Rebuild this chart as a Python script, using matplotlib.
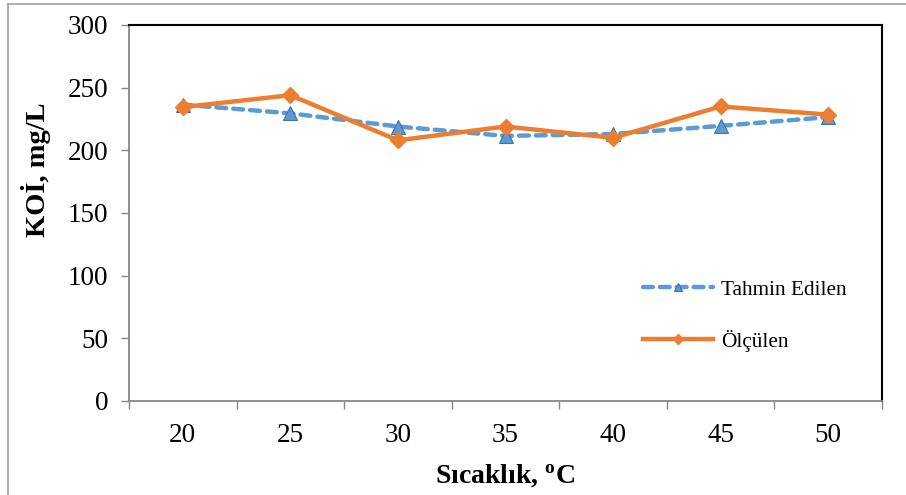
import matplotlib
matplotlib.use("Agg")
import matplotlib.pyplot as plt
from matplotlib.lines import Line2D

temps = ['20', '25', '30', '35', '40', '45', '50']
tahmin = [236.5, 229.5, 219, 211.5, 213, 219.5, 226.5]
olculen = [234.5, 244, 208, 219, 210, 235, 228.5]

plt.rcParams['font.family'] = ['Liberation Serif', 'DejaVu Serif']
plt.rcParams['mathtext.fontset'] = 'custom'
plt.rcParams['mathtext.rm'] = 'Liberation Serif'
plt.rcParams['mathtext.bf'] = 'Liberation Serif:bold'

blue = '#5B9BD5'
orange = '#ED7D31'
gray = '#868686'

fig = plt.figure(figsize=(9.06, 4.95), dpi=100)
ax = fig.add_axes([129 / 906, 1 - 401 / 495, 753 / 906, 376 / 495])

x = range(len(temps))
ax.plot(x, tahmin, color=blue, lw=3.2, dashes=(2.2, 1.6), dash_capstyle='round',
        marker='^', ms=10, mfc=blue, mec='#41719C', mew=0.8, label='Tahmin Edilen', zorder=3)
ax.plot(x, olculen, color=orange, lw=3.2, marker='D', ms=8, mfc=orange, mec=orange,
        label='Ölçülen', zorder=4)

ax.set_xlim(-0.5, len(temps) - 0.5)
ax.set_ylim(0, 300)
ax.set_yticks(range(0, 301, 50))
ax.set_xticks(list(x))
ax.set_xticklabels(temps)
ax.set_xticks([i - 0.5 for i in range(len(temps) + 1)], minor=True)

ax.tick_params(axis='y', direction='out', length=6, width=1, color=gray, pad=9, labelsize=19.5)
ax.tick_params(axis='x', which='major', length=0, pad=16, labelsize=19.5)
ax.tick_params(axis='x', which='minor', direction='out', length=6, width=1, color=gray)

for s in ['top', 'right']:
    ax.spines[s].set_color('black')
    ax.spines[s].set_linewidth(1.5)
for s in ['left', 'bottom']:
    ax.spines[s].set_color(gray)
    ax.spines[s].set_linewidth(1.3)

ax.set_ylabel('KOİ, mg/L', fontsize=20.5, fontweight='bold')
ax.yaxis.set_label_coords(-0.104, 0.614)
ax.set_xlabel(r'Sıcaklık, $\mathbf{^o}$C', fontsize=20, fontweight='bold', labelpad=10)

ax.legend(loc='center left', bbox_to_anchor=(0.683, 0.227), frameon=False, fontsize=15.3,
          handlelength=3.3, handletextpad=0.35, labelspacing=1.4, borderpad=0, borderaxespad=0,
          markerscale=0.6)

# outer frame of the picture
fig.add_artist(Line2D([8 / 906, 1], [1 - 4 / 495, 1 - 4 / 495], color='#A0A0A0', lw=1.2))
fig.add_artist(Line2D([8 / 906, 8 / 906], [0, 1 - 4 / 495], color='#A0A0A0', lw=1.2))

fig.savefig('out.png', dpi=100)
